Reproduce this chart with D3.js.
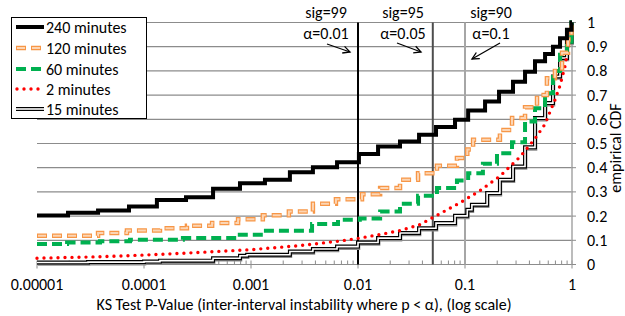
<!DOCTYPE html>
<html>
<head>
<meta charset="utf-8">
<script src="https://cdn.jsdelivr.net/npm/d3@7"></script>
<style>
  body { margin: 0; background: #fff; }
  text { font-family: Carlito, "Open Sans", sans-serif; fill: #000; }
</style>
</head>
<body>
<script>
// step locations (p-value) and cdf levels
const p240   = [1e-5, 1.95e-5, 3.72e-5, 7.24e-5, 1.32e-4, 2.47e-4, 4.42e-4, 7.89e-4, 1.35e-3, 2.31e-3, 3.79e-3, 6.37e-3, 0.0102, 0.0154, 0.0247, 0.0372, 0.0536, 0.0807, 0.107, 0.154, 0.208, 0.281, 0.364, 0.451, 0.560, 0.664, 0.773, 0.897, 0.99, 1];
const cdf240 = [0.202, 0.214, 0.223, 0.240, 0.267, 0.278, 0.313, 0.336, 0.350, 0.381, 0.402, 0.423, 0.457, 0.488, 0.508, 0.536, 0.568, 0.598, 0.636, 0.674, 0.714, 0.755, 0.797, 0.840, 0.870, 0.900, 0.935, 0.970, 1, 1];

const p120   = [1e-5, 3.72e-5, 6.93e-5, 1.41e-4, 2.52e-4, 4.33e-4, 7.57e-4, 1.29e-3, 2.26e-3, 3.79e-3, 6.22e-3, 0.0109, 0.0161, 0.0247, 0.0364, 0.0547, 0.0841, 0.105, 0.119, 0.212, 0.275, 0.364, 0.471, 0.583, 0.693, 0.807, 0.918, 0.99, 1];
const cdf120 = [0.119, 0.130, 0.140, 0.150, 0.160, 0.171, 0.187, 0.203, 0.219, 0.251, 0.270, 0.290, 0.316, 0.350, 0.377, 0.408, 0.440, 0.475, 0.515, 0.556, 0.605, 0.650, 0.700, 0.770, 0.810, 0.875, 0.930, 1, 1];

const p60    = [1e-5, 1.91e-5, 3.88e-5, 7.4e-5, 2.31e-4, 7.40e-4, 1.29e-3, 3.72e-3, 6.50e-3, 0.0104, 0.0161, 0.0247, 0.0364, 0.0547, 0.0841, 0.107, 0.147, 0.199, 0.275, 0.364, 0.451, 0.560, 0.664, 0.773, 0.897, 0.99, 1];
const cdf60  = [0.085, 0.091, 0.096, 0.102, 0.109, 0.123, 0.139, 0.167, 0.185, 0.190, 0.219, 0.251, 0.284, 0.316, 0.347, 0.377, 0.416, 0.460, 0.505, 0.591, 0.646, 0.708, 0.800, 0.867, 0.920, 1, 1];

const p2     = [1e-5, 3.88e-5, 1.14e-4, 3.33e-4, 9.8e-4, 2.87e-3, 6.79e-3, 0.01, 0.0161, 0.0247, 0.0379, 0.0583, 0.0897, 0.138, 0.212, 0.327, 0.451, 0.560, 0.622, 0.693, 0.773, 0.861, 0.957, 1];
const cdf2   = [0.026, 0.032, 0.040, 0.050, 0.061, 0.078, 0.097, 0.108, 0.124, 0.140, 0.165, 0.210, 0.255, 0.305, 0.365, 0.445, 0.520, 0.580, 0.630, 0.680, 0.740, 0.820, 0.940, 1];

const p15    = [1e-5, 3.0e-5, 1e-4, 1.41e-4, 4.42e-4, 7.89e-4, 9.2e-4, 2.31e-3, 3.79e-3, 6.37e-3, 0.01, 0.0154, 0.0247, 0.0372, 0.0536, 0.0807, 0.105, 0.116, 0.161, 0.212, 0.281, 0.364, 0.451, 0.560, 0.664, 0.773, 0.897, 0.99, 1];
const cdf15  = [0.008, 0.010, 0.012, 0.016, 0.026, 0.036, 0.040, 0.054, 0.064, 0.074, 0.091, 0.109, 0.130, 0.150, 0.171, 0.201, 0.226, 0.247, 0.295, 0.350, 0.405, 0.484, 0.605, 0.667, 0.777, 0.853, 0.920, 1, 1];

const xTicks = [1e-5, 1e-4, 1e-3, 1e-2, 1e-1, 1];
const xTickLabels = ["0.00001", "0.0001", "0.001", "0.01", "0.1", "1"];
const yTicks = [0, 0.1, 0.2, 0.3, 0.4, 0.5, 0.6, 0.7, 0.8, 0.9, 1];
const sigLines = [0.01, 0.05, 0.1];
const sigLabels = ["sig=99", "sig=95", "sig=90"];
const alphaLabels = ["α=0.01", "α=0.05", "α=0.1"];
const legendNames = ["240 minutes", "120 minutes", "60 minutes", "2 minutes", "15 minutes"];

const width = 625, height = 316;
const fs = 16;
const svg = d3.select("body").append("svg")
  .attr("width", width).attr("height", height);

const x = d3.scaleLog().domain([1e-5, 1]).range([37, 572]);
const y = d3.scaleLinear().domain([0, 1]).range([264.5, 22.5]);

const zip = (ps, vs) => ps.map((p, i) => [p, vs[i]]);
const stepLine = d3.line().x(d => x(d[0])).y(d => y(d[1])).curve(d3.curveStepAfter);
const plainLine = d3.line().x(d => x(d[0])).y(d => y(d[1]));

// horizontal grid
svg.append("g").selectAll("line").data(yTicks.slice(1)).join("line")
  .attr("x1", x(1e-5)).attr("x2", x(1))
  .attr("y1", d => y(d)).attr("y2", d => y(d))
  .attr("stroke", "#8c8c8c").attr("stroke-width", 1.2);

// x axis with log minor ticks
const minor = [];
for (let e = -5; e < 0; e++) for (let k = 2; k < 10; k++) minor.push(k * Math.pow(10, e));
svg.append("line").attr("x1", x(1e-5)).attr("x2", x(1))
  .attr("y1", y(0)).attr("y2", y(0)).attr("stroke", "#8c8c8c").attr("stroke-width", 1.2);
svg.append("g").selectAll("line").data(minor).join("line")
  .attr("x1", d => x(d)).attr("x2", d => x(d))
  .attr("y1", y(0) - 4).attr("y2", y(0))
  .attr("stroke", "#8c8c8c");
svg.append("g").selectAll("line").data(xTicks).join("line")
  .attr("x1", d => x(d)).attr("x2", d => x(d))
  .attr("y1", y(0) - 4).attr("y2", y(0) + 4)
  .attr("stroke", "#8c8c8c");
svg.append("g").selectAll("text").data(xTicks).join("text")
  .attr("x", d => x(d)).attr("y", 290)
  .attr("text-anchor", "middle").attr("font-size", fs)
  .text((d, i) => xTickLabels[i]);
svg.append("text").attr("x", 304).attr("y", 309.5)
  .attr("text-anchor", "middle").attr("font-size", fs)
  .text("KS Test P-Value (inter-interval instability where p < α), (log scale)");

// right y axis
svg.append("line").attr("x1", x(1)).attr("x2", x(1))
  .attr("y1", y(0)).attr("y2", y(1)).attr("stroke", "#a6a6a6").attr("stroke-width", 1.5);
svg.append("g").selectAll("line").data(yTicks).join("line")
  .attr("x1", x(1)).attr("x2", x(1) + 4)
  .attr("y1", d => y(d)).attr("y2", d => y(d)).attr("stroke", "#8c8c8c");
svg.append("g").selectAll("text").data(yTicks).join("text")
  .attr("x", 587).attr("y", d => y(d) + 5.5)
  .attr("font-size", fs)
  .text(d => d3.format("")(d));
svg.append("text")
  .attr("transform", "translate(621,148) rotate(-90)")
  .attr("text-anchor", "middle").attr("font-size", fs)
  .text("empirical CDF");

// significance lines
const sigColors = ["#000000", "#4d4d4d", "#a6a6a6"];
svg.append("g").selectAll("line").data(sigLines).join("line")
  .attr("x1", d => x(d)).attr("x2", d => x(d))
  .attr("y1", y(1)).attr("y2", y(0))
  .attr("stroke", (d, i) => sigColors[i]).attr("stroke-width", 2);

// series
function drawStep(data, styles, line) {
  styles.forEach(s => {
    const p = svg.append("path").datum(data)
      .attr("d", line || stepLine)
      .attr("fill", "none")
      .attr("stroke", s.c).attr("stroke-width", s.w);
    if (s.dash) p.attr("stroke-dasharray", s.dash);
    if (s.off) p.attr("stroke-dashoffset", s.off);
    if (s.cap) p.attr("stroke-linecap", s.cap);
    if (s.t) p.attr("transform", s.t);
  });
}

const st15 = [{c: "#8c8c8c", w: 3, t: "translate(0.8,1.8)"}, {c: "#000", w: 4}, {c: "#fff", w: 1.6}];
const st2 = [{c: "#ff0000", w: 3.4, dash: "0 7", cap: "round"}];
const st60 = [{c: "#00b050", w: 4, dash: "10 5"}];
const st120 = [{c: "#f79646", w: 4.5, dash: "10 5"}, {c: "#fcd5b4", w: 2, dash: "8 7", off: -1}];
const st240 = [{c: "#000", w: 4}];

drawStep(zip(p15, cdf15), st15);
drawStep(zip(p2, cdf2), st2, plainLine);
drawStep(zip(p60, cdf60), st60);
drawStep(zip(p120, cdf120), st120);
drawStep(zip(p240, cdf240), st240);

// annotations
svg.append("defs").append("marker")
  .attr("id", "arr").attr("viewBox", "-8 -5 10 10")
  .attr("markerWidth", 10).attr("markerHeight", 10)
  .attr("markerUnits", "userSpaceOnUse").attr("orient", "auto")
  .append("path").attr("d", "M-7,-3.5L0,0L-7,3.5")
  .attr("fill", "none").attr("stroke", "#000").attr("stroke-width", 1.3);

const sigLabelX = [326, 403, 491];
const alphaX = [326, 403, 491];
svg.append("g").selectAll("text").data(sigLabels).join("text")
  .attr("x", (d, i) => sigLabelX[i]).attr("y", 18)
  .attr("text-anchor", "middle").attr("font-size", fs).text(d => d);
svg.append("g").selectAll("text").data(alphaLabels).join("text")
  .attr("x", (d, i) => alphaX[i]).attr("y", 39)
  .attr("text-anchor", "middle").attr("font-size", fs).text(d => d);
const arrows = [[327, 44, 350, 52], [397, 43, 421, 52], [500, 43, 472, 59]];
svg.append("g").selectAll("line").data(arrows).join("line")
  .attr("x1", d => d[0]).attr("y1", d => d[1])
  .attr("x2", d => d[2]).attr("y2", d => d[3])
  .attr("stroke", "#000").attr("stroke-width", 1.3)
  .attr("marker-end", "url(#arr)");

// legend
const lg = svg.append("g");
lg.append("rect").attr("x", 11.5).attr("y", 17.5).attr("width", 135).attr("height", 101)
  .attr("fill", "#fff").attr("stroke", "#000");
const legendY = [27, 48, 69, 89, 109];
const legendStyles = [st240, st120, st60, st2, st15];
legendStyles.forEach((sts, i) => {
  sts.forEach(s => {
    if (s.t) return;
    const l = lg.append("line")
      .attr("x1", i === 3 ? 17 : 16).attr("x2", 44)
      .attr("y1", legendY[i]).attr("y2", legendY[i])
      .attr("stroke", s.c).attr("stroke-width", s.w);
    if (s.dash) l.attr("stroke-dasharray", s.dash);
    if (s.off) l.attr("stroke-dashoffset", s.off);
    if (s.cap) l.attr("stroke-linecap", s.cap);
  });
});
lg.selectAll("text").data(legendNames).join("text")
  .attr("x", 46).attr("y", (d, i) => legendY[i] + 5.5)
  .attr("font-size", fs).text(d => d);
</script>
</body>
</html>
